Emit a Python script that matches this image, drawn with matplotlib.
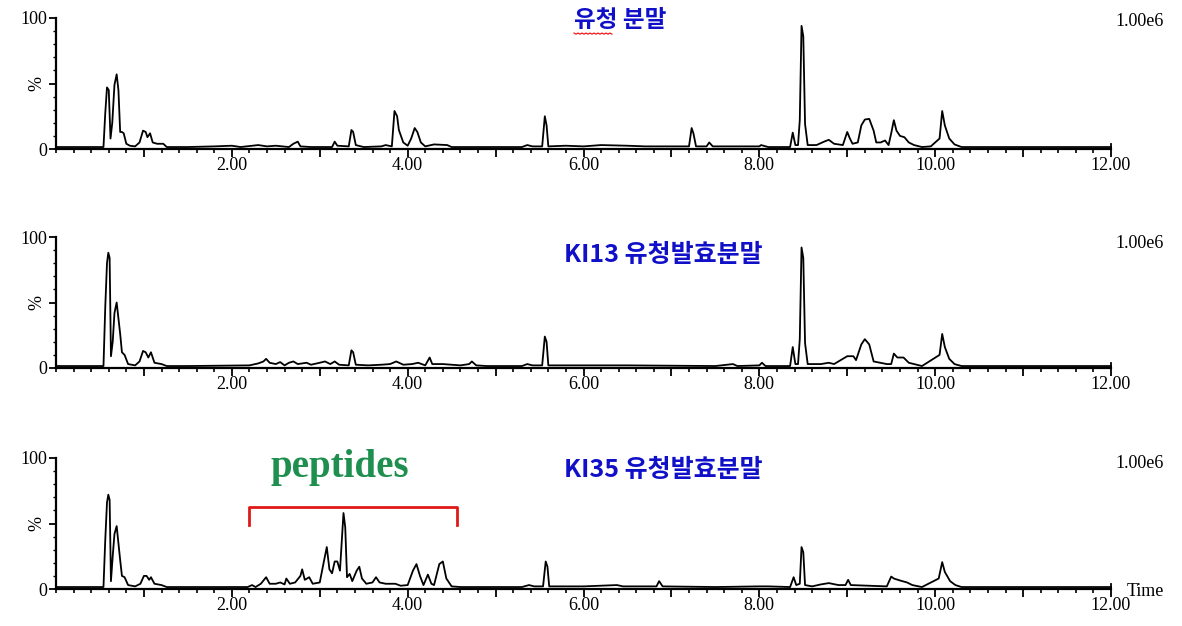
import numpy as np
import matplotlib
matplotlib.use('Agg')
import matplotlib.pyplot as plt
from matplotlib.ticker import MultipleLocator

# chromatogram traces (time in min, intensity in %)
t_whey = [0.00, 0.54, 0.56, 0.58, 0.60, 0.62, 0.64, 0.665, 0.69, 0.71, 0.73, 0.75, 0.77, 0.80, 0.84,
          0.90, 0.95, 0.99, 1.02, 1.04, 1.07, 1.10, 1.15, 1.22, 1.26, 1.50, 1.80, 2.00, 2.10, 2.30,
          2.40, 2.50, 2.65, 2.70, 2.75, 2.78, 2.90, 3.14, 3.17, 3.20, 3.33, 3.36, 3.38, 3.41, 3.50,
          3.70, 3.75, 3.82, 3.85, 3.88, 3.90, 3.95, 4.00, 4.04, 4.08, 4.11, 4.15, 4.20, 4.30, 4.45,
          4.50, 5.30, 5.36, 5.42, 5.53, 5.56, 5.58, 5.60, 5.80, 6.00, 6.20, 6.50, 6.70, 7.00, 7.20,
          7.23, 7.25, 7.28, 7.40, 7.43, 7.47, 8.00, 8.02, 8.10, 8.35, 8.38, 8.41, 8.44, 8.46, 8.48,
          8.50, 8.52, 8.55, 8.65, 8.75, 8.79, 8.85, 8.95, 9.00, 9.03, 9.06, 9.12, 9.16, 9.20, 9.25,
          9.30, 9.33, 9.38, 9.43, 9.47, 9.50, 9.53, 9.56, 9.60, 9.65, 9.70, 9.76, 9.85, 9.95, 10.05,
          10.08, 10.11, 10.16, 10.22, 10.30, 12.00]
i_whey = [1.5, 1.5, 27, 47, 45, 8, 20, 49, 57, 45, 13, 13, 12, 4, 2.5,
          2, 5, 14, 13, 9, 12, 5, 4, 4, 1.5, 1.5, 2, 2.5, 1.5, 3,
          2, 2.5, 1.5, 4, 5.6, 2, 1.5, 1.5, 5.6, 2.5, 2, 14.5, 13, 3, 1.5,
          2, 3, 2, 29, 25, 14.5, 5, 2.5, 8, 16, 13, 5, 2, 3.5, 3,
          1.5, 1.5, 3, 2, 2, 25, 18, 2, 2.5, 2, 3, 2.5, 2, 2, 2,
          16, 12, 2, 2, 5, 2, 2, 3, 1.5, 1.5, 12.5, 3, 3, 22, 94,
          86, 19, 3, 3, 6, 7, 4, 3, 13, 8, 4, 5, 18, 22.5, 23,
          14, 5, 5, 6.5, 3, 12, 22, 14, 10, 9, 5, 3, 1.5, 2, 8,
          29, 18, 8, 3.5, 1.5, 1.5]

t_ki13 = [0.00, 0.54, 0.56, 0.58, 0.595, 0.61, 0.625, 0.645, 0.665, 0.69, 0.71, 0.73, 0.75, 0.78, 0.82,
          0.90, 0.95, 0.99, 1.02, 1.05, 1.08, 1.12, 1.20, 1.26, 1.50, 2.20, 2.30, 2.36, 2.39, 2.43,
          2.50, 2.55, 2.60, 2.65, 2.70, 2.75, 2.85, 2.90, 3.00, 3.06, 3.12, 3.17, 3.22, 3.33, 3.36,
          3.38, 3.41, 3.55, 3.70, 3.80, 3.87, 3.95, 4.05, 4.12, 4.20, 4.25, 4.28, 4.40, 4.50, 4.60,
          4.70, 4.73, 4.78, 4.90, 5.30, 5.36, 5.42, 5.53, 5.56, 5.58, 5.60, 6.50, 7.50, 7.70, 7.75,
          8.00, 8.03, 8.07, 8.35, 8.38, 8.41, 8.44, 8.46, 8.48, 8.50, 8.52, 8.55, 8.70, 8.79, 8.85,
          8.95, 9.00, 9.07, 9.10, 9.16, 9.20, 9.25, 9.30, 9.45, 9.50, 9.53, 9.57, 9.64, 9.70, 9.76,
          9.85, 10.05, 10.08, 10.11, 10.16, 10.22, 10.30, 12.00]
i_ki13 = [1.5, 1.5, 46, 80, 88, 84, 9, 20, 42, 50, 38, 26, 12, 10, 3,
          2, 5, 13, 12, 8, 12, 4, 3, 1.5, 1.5, 2, 3.5, 5, 7, 4,
          3, 4.5, 2, 4, 5, 3, 4, 2.5, 4, 5, 3, 5, 2.5, 2, 13.5,
          12, 2.5, 2, 2.5, 3, 5, 2.5, 3, 4, 2, 8, 3, 3, 2.5, 2,
          3, 5, 2, 1.5, 1.5, 3, 2, 2, 24, 20, 2, 2, 1.5, 3, 1.5,
          2, 4, 1.5, 1.5, 16, 3, 3, 22, 92, 84, 19, 3, 3, 4, 3,
          7, 9, 9, 6, 18, 22, 18, 5, 3, 3, 11, 8, 8, 4, 3,
          1.5, 10, 26, 16, 7, 3, 1.5, 1.5]

t_ki35 = [0.00, 0.54, 0.56, 0.58, 0.595, 0.61, 0.625, 0.645, 0.665, 0.69, 0.71, 0.73, 0.75, 0.78, 0.82,
          0.90, 0.96, 1.00, 1.03, 1.06, 1.08, 1.12, 1.20, 1.26, 2.18, 2.23, 2.27, 2.33, 2.39, 2.43,
          2.50, 2.55, 2.60, 2.62, 2.66, 2.72, 2.78, 2.80, 2.83, 2.88, 2.92, 3.00, 3.05, 3.08, 3.11,
          3.14, 3.17, 3.20, 3.23, 3.27, 3.29, 3.31, 3.34, 3.37, 3.42, 3.45, 3.48, 3.53, 3.60, 3.64,
          3.68, 3.75, 3.86, 3.92, 4.00, 4.06, 4.10, 4.14, 4.18, 4.23, 4.27, 4.30, 4.36, 4.40, 4.44,
          4.50, 4.60, 5.30, 5.38, 5.44, 5.54, 5.57, 5.59, 5.61, 6.00, 6.38, 6.45, 6.83, 6.86, 6.90,
          7.50, 8.00, 8.10, 8.35, 8.39, 8.42, 8.46, 8.48, 8.50, 8.52, 8.60, 8.70, 8.79, 8.90, 8.98,
          9.01, 9.04, 9.45, 9.50, 9.53, 9.60, 9.68, 9.74, 9.85, 10.04, 10.08, 10.11, 10.17, 10.23, 10.30,
          12.00]
i_ki35 = [1.5, 1.5, 37, 66, 72, 68, 6, 25, 42, 48, 35, 22, 10, 9, 3,
          2, 4, 10, 10, 7, 9, 4, 3, 1.5, 1.5, 3, 1.5, 4, 9, 4,
          4, 5, 3.5, 8, 4, 5, 10, 15, 7, 9, 4, 5, 22, 32, 15,
          12, 21, 21, 14, 58, 47, 9, 11.5, 6, 14, 17, 8, 4, 5, 9,
          5, 4, 4, 2.5, 3, 14, 19, 10, 3, 11, 4, 3, 19, 21, 8,
          2, 1.5, 1.5, 3, 2, 2, 21, 17, 2, 2, 3, 2, 2, 6, 2,
          1.5, 2, 2, 1.5, 9, 3, 4, 32, 28, 3, 2, 3.5, 4.5, 3, 3,
          7, 3, 2, 9.5, 8, 6.5, 5, 3, 1.5, 8, 20.5, 13, 6, 3, 1.5,
          1.5]

titles = ['유청 분말', 'KI13 유청발효분말', 'KI35 유청발효분말']
scale_label = '1.00e6'
x_labels = ['', '2.00', '', '4.00', '', '6.00', '', '8.00', '', '10.00', '', '12.00']

traces = [(t_whey, i_whey), (t_ki13, i_ki13), (t_ki35, i_ki35)]

fig = plt.figure(figsize=(11.82, 6.26), dpi=100)
serif = 'Liberation Serif'
cjk = ['Noto Sans CJK KR', 'DejaVu Sans']
bottoms = [1 - 149 / 626, 1 - 368 / 626, 1 - 589 / 626]
title_y = [20, 255, 470]
scale_y = [21, 243, 463]
title_x = [620, 663, 663]

for k, (tt, ii) in enumerate(traces):
    ax = fig.add_axes([56 / 1182, bottoms[k], 1055 / 1182, 131 / 626])
    ax.plot(tt, ii, color='black', lw=1.3, clip_on=False)
    ax.set_xlim(0, 12)
    ax.set_ylim(0, 100)
    for s in ['top', 'right']:
        ax.spines[s].set_visible(False)
    ax.spines['left'].set_linewidth(1.6)
    ax.spines['bottom'].set_linewidth(1.6)
    ax.set_xticks(np.arange(1, 13))
    ax.set_xticklabels(x_labels, fontfamily=serif, fontsize=13)
    ax.xaxis.set_minor_locator(MultipleLocator(0.2))
    ax.tick_params(axis='x', which='major', length=6, width=1.3, pad=0)
    ax.tick_params(axis='x', which='minor', length=3, width=1.2)
    ax.set_yticks([0, 50, 100])
    ax.set_yticklabels(['0', '', '100'], fontfamily=serif, fontsize=13)
    ax.yaxis.set_minor_locator(MultipleLocator(10))
    ax.tick_params(axis='y', which='major', length=5, width=1.3, pad=1)
    ax.tick_params(axis='y', which='minor', length=2.5, width=1.0)
    ax.text(-0.018, 0.5, '%', transform=ax.transAxes, rotation=90, ha='center', va='center',
            fontfamily=serif, fontsize=13)
    # end marker of time axis
    ax.plot([12, 12], [0, 4], color='black', lw=1.3, clip_on=False)

    fig.text(1140 / 1182, 1 - scale_y[k] / 626, scale_label, ha='center', va='center',
             fontfamily=serif, fontsize=13)
    fig.text(title_x[k] / 1182, 1 - title_y[k] / 626, titles[k], ha='center', va='center',
             family=cjk, fontsize=18 if k else 17, color='#1010c8', fontweight='bold')

    if k == 2:
        # peptide region bracket
        ax.plot([2.20, 2.20, 4.56, 4.56], [49, 62.5, 62.5, 49], color='#e01818', lw=2, clip_on=False)
        ax.text(3.23, 93, 'peptides', ha='center', va='center', fontfamily=serif, fontsize=28,
                fontweight='bold', color='#1f8f4f', clip_on=False)
        fig.text(1145 / 1182, 1 - 592 / 626, 'Time', ha='center', va='center',
                 fontfamily=serif, fontsize=13)

# spell-check squiggle under the first title
sq_x = np.linspace(574, 612, 20) / 1182
sq_y = 1 - (33 + 1.2 * (np.arange(20) % 2)) / 626
fig.add_artist(plt.Line2D(sq_x, sq_y, color='red', lw=0.8, transform=fig.transFigure))

fig.savefig('out.png', dpi=100)
